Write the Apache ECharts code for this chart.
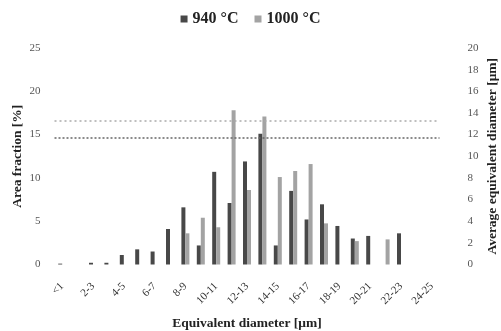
<!DOCTYPE html>
<html>
<head>
<meta charset="utf-8">
<script src="https://cdn.jsdelivr.net/npm/echarts@6/dist/echarts.min.js"></script>
<style>
  html, body { margin: 0; padding: 0; background: #fff; }
  #chart { width: 501px; height: 331px; }
</style>
</head>
<body>
<div id="chart"></div>
<script>
// size classes of equivalent diameter
const categories = ['<1', '1-2', '2-3', '3-4', '4-5', '5-6', '6-7', '7-8', '8-9', '9-10',
  '10-11', '11-12', '12-13', '13-14', '14-15', '15-16', '16-17', '17-18', '18-19', '19-20',
  '20-21', '21-22', '22-23', '23-24', '24-25'];

// area fraction [%]
const area940 = [0.1, '-', 0.2, 0.2, 1.1, 1.75, 1.5, 4.1, 6.6, 2.2,
  10.7, 7.1, 11.9, 15.1, 2.2, 8.5, 5.2, 6.95, 4.45, 3.0,
  3.3, '-', 3.6, '-', '-'];
const area1000 = ['-', '-', '-', '-', '-', '-', '-', '-', 3.6, 5.4,
  4.3, 17.8, 8.6, 17.1, 10.1, 10.8, 11.6, 4.75, '-', 2.7,
  '-', 2.9, '-', '-', '-'];

// average equivalent diameter [um], right axis
const avgDiameter940 = 11.7;
const avgDiameter1000 = 13.3;

const serif = '"Liberation Serif", "DejaVu Serif", serif';
const darkGray = '#484848';
const lightGray = '#a3a3a3';
const nameStyle = { fontFamily: serif, fontWeight: 'bold', fontSize: 13.5, color: '#222' };

const chart = echarts.init(document.getElementById('chart'));
chart.setOption({
  animation: false,
  textStyle: { fontFamily: serif },
  legend: {
    top: 6,
    left: 'center',
    itemWidth: 7,
    itemHeight: 7,
    itemGap: 16,
    icon: 'rect',
    textStyle: { fontFamily: serif, fontWeight: 'bold', fontSize: 16, color: '#222' },
    data: ['940 °C', '1000 °C']
  },
  grid: { left: 54.5, right: 61.5, top: 48, bottom: 66.5, outerBoundsMode: 'none', containLabel: false },
  xAxis: {
    type: 'category',
    data: categories,
    name: 'Equivalent diameter [μm]',
    nameLocation: 'middle',
    nameGap: 52,
    nameMoveOverlap: false,
    nameTextStyle: nameStyle,
    axisLine: { show: false },
    axisTick: { show: false },
    axisLabel: {
      interval: 1,
      rotate: 45,
      margin: 20,
      fontSize: 11,
      color: '#333',
      fontFamily: serif
    }
  },
  yAxis: [
    {
      type: 'value',
      min: 0,
      max: 25,
      interval: 5,
      name: 'Area fraction [%]',
      nameLocation: 'middle',
      nameGap: 30,
      nameMoveOverlap: false,
      nameTextStyle: nameStyle,
      axisLine: { show: false },
      axisTick: { show: false },
      splitLine: { show: false },
      axisLabel: { margin: 14, fontSize: 11, color: '#555', fontFamily: serif }
    },
    {
      type: 'value',
      min: 0,
      max: 20,
      interval: 2,
      position: 'right',
      name: 'Average equivalent diameter [μm]',
      nameLocation: 'middle',
      nameRotate: 90,
      nameGap: 46,
      nameMoveOverlap: false,
      nameTextStyle: nameStyle,
      axisLine: { show: false },
      axisTick: { show: false },
      splitLine: { show: false },
      axisLabel: { margin: 28, fontSize: 11, color: '#555', fontFamily: serif, align: 'left' }
    }
  ],
  series: [
    {
      name: '940 °C',
      type: 'bar',
      data: area940,
      barWidth: 4,
      barGap: '0%',
      itemStyle: { color: darkGray }
    },
    {
      name: '1000 °C',
      type: 'bar',
      data: area1000,
      barWidth: 4,
      itemStyle: { color: lightGray }
    },
    {
      name: 'avg',
      type: 'line',
      yAxisIndex: 1,
      data: [],
      markLine: {
        silent: true,
        symbol: 'none',
        label: { show: false },
        data: [
          { yAxis: avgDiameter940, lineStyle: { type: [2, 2], color: '#666', width: 1.5 } },
          { yAxis: avgDiameter1000, lineStyle: { type: [2, 3], color: '#aaa', width: 1.5 } }
        ]
      }
    }
  ]
});
</script>
</body>
</html>
